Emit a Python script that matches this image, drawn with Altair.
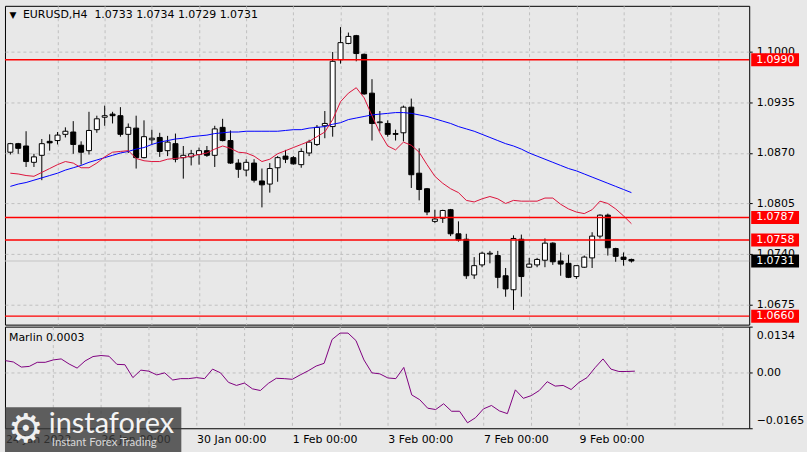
import altair as alt
import pandas as pd

# ---------------- data ----------------
bar_index = list(range(80))

opens = [1.0871, 1.0882, 1.0879, 1.0858, 1.0867, 1.0885, 1.0886, 1.0894, 1.0897, 1.0880,
         1.0873, 1.0900, 1.0916, 1.0920, 1.0918, 1.0894, 1.0902, 1.0864, 1.0887, 1.0890,
         1.0873, 1.0882, 1.0864, 1.0865, 1.0868, 1.0873, 1.0867, 1.0903, 1.0886, 1.0857,
         1.0848, 1.0857, 1.0834, 1.0830, 1.0851, 1.0866, 1.0864, 1.0855, 1.0870, 1.0881,
         1.0905, 1.0904, 1.0990, 1.1011, 1.1021, 1.0997, 1.0947, 1.0909, 1.0908, 1.0895,
         1.0896, 1.0929, 1.0844, 1.0824, 1.0782, 1.0786, 1.0797, 1.0766, 1.0759, 1.0713,
         1.0726, 1.0740, 1.0738, 1.0712, 1.0694, 1.0759, 1.0723, 1.0726, 1.0732, 1.0754,
         1.0731, 1.0728, 1.0711, 1.0723, 1.0735, 1.0763, 1.0790, 1.0747, 1.0736, 1.0733]
highs = [1.0883, 1.0883, 1.0898, 1.0869, 1.0888, 1.0894, 1.0897, 1.0903, 1.0911, 1.0885,
         1.0923, 1.0918, 1.0931, 1.0923, 1.0929, 1.0908, 1.0918, 1.0912, 1.0900, 1.0896,
         1.0892, 1.0895, 1.0879, 1.0874, 1.0877, 1.0879, 1.0905, 1.0914, 1.0899, 1.0862,
         1.0862, 1.0862, 1.0850, 1.0857, 1.0866, 1.0874, 1.0866, 1.0876, 1.0887, 1.0906,
         1.0924, 1.1000, 1.1032, 1.1025, 1.1022, 1.0998, 1.0965, 1.0924, 1.0912, 1.0900,
         1.0931, 1.0940, 1.0876, 1.0825, 1.0797, 1.0797, 1.0798, 1.0782, 1.0766, 1.0736,
         1.0743, 1.0744, 1.0744, 1.0722, 1.0764, 1.0765, 1.0735, 1.0735, 1.0760, 1.0755,
         1.0742, 1.0739, 1.0725, 1.0738, 1.0768, 1.0791, 1.0792, 1.0748, 1.0742, 1.0734]
lows = [1.0868, 1.0869, 1.0852, 1.0852, 1.0835, 1.0873, 1.0881, 1.0890, 1.0869, 1.0855,
        1.0868, 1.0896, 1.0905, 1.0908, 1.0891, 1.0870, 1.0850, 1.0863, 1.0881, 1.0865,
        1.0866, 1.0858, 1.0837, 1.0854, 1.0855, 1.0865, 1.0852, 1.0885, 1.0856, 1.0838,
        1.0840, 1.0832, 1.0800, 1.0819, 1.0833, 1.0857, 1.0855, 1.0851, 1.0866, 1.0879,
        1.0889, 1.0891, 1.0985, 1.1010, 1.0988, 1.0945, 1.0886, 1.0898, 1.0891, 1.0886,
        1.0885, 1.0825, 1.0809, 1.0790, 1.0780, 1.0780, 1.0763, 1.0756, 1.0708, 1.0708,
        1.0723, 1.0728, 1.0696, 1.0685, 1.0668, 1.0685, 1.0722, 1.0723, 1.0723, 1.0726,
        1.0712, 1.0709, 1.0708, 1.0722, 1.0722, 1.0760, 1.0738, 1.0730, 1.0725, 1.0729]
closes = [1.0882, 1.0876, 1.0859, 1.0865, 1.0882, 1.0883, 1.0893, 1.0898, 1.0881, 1.0871,
          1.0899, 1.0914, 1.0918, 1.0918, 1.0894, 1.0903, 1.0864, 1.0891, 1.0889, 1.0872,
          1.0884, 1.0862, 1.0867, 1.0869, 1.0873, 1.0867, 1.0901, 1.0886, 1.0857, 1.0849,
          1.0858, 1.0835, 1.0829, 1.0850, 1.0864, 1.0862, 1.0856, 1.0872, 1.0884, 1.0903,
          1.0908, 1.0988, 1.1012, 1.1020, 1.0998, 1.0946, 1.0908, 1.0910, 1.0894, 1.0894,
          1.0929, 1.0842, 1.0823, 1.0794, 1.0785, 1.0796, 1.0766, 1.0758, 1.0712, 1.0725,
          1.0741, 1.0741, 1.0710, 1.0695, 1.0760, 1.0711, 1.0727, 1.0733, 1.0754, 1.0730,
          1.0727, 1.0710, 1.0725, 1.0736, 1.0763, 1.0790, 1.0748, 1.0737, 1.0733, 1.0731]

ma_fast = [1.0844, 1.0843, 1.0841, 1.0840, 1.0845, 1.0850, 1.0855, 1.0859, 1.0857, 1.0851,
           1.0851, 1.0857, 1.0865, 1.0871, 1.0872, 1.0873, 1.0863, 1.0860, 1.0859, 1.0859,
           1.0862, 1.0863, 1.0864, 1.0866, 1.0868, 1.0870, 1.0875, 1.0879, 1.0876, 1.0871,
           1.0870, 1.0866, 1.0859, 1.0862, 1.0869, 1.0873, 1.0877, 1.0881, 1.0885, 1.0891,
           1.0897, 1.0913, 1.0936, 1.0947, 1.0954, 1.0941, 1.0918, 1.0896, 1.0879, 1.0874,
           1.0884, 1.0880, 1.0871, 1.0855, 1.0840, 1.0831, 1.0824, 1.0819, 1.0809, 1.0807,
           1.0811, 1.0814, 1.0811, 1.0805, 1.0809, 1.0808, 1.0808, 1.0808, 1.0812, 1.0812,
           1.0804, 1.0798, 1.0794, 1.0792, 1.0797, 1.0808, 1.0805, 1.0798, 1.0789, 1.0779]
ma_slow = [1.0827, 1.0830, 1.0832, 1.0835, 1.0838, 1.0841, 1.0844, 1.0848, 1.0851, 1.0854,
           1.0858, 1.0861, 1.0864, 1.0867, 1.0870, 1.0872, 1.0875, 1.0877, 1.0881, 1.0884,
           1.0886, 1.0888, 1.0889, 1.0891, 1.0892, 1.0893, 1.0895, 1.0896, 1.0897, 1.0897,
           1.0898, 1.0898, 1.0898, 1.0898, 1.0898, 1.0899, 1.0900, 1.0900, 1.0902, 1.0903,
           1.0904, 1.0907, 1.0909, 1.0913, 1.0915, 1.0917, 1.0919, 1.0920, 1.0921, 1.0922,
           1.0922, 1.0921, 1.0919, 1.0917, 1.0914, 1.0911, 1.0908, 1.0904, 1.0901, 1.0898,
           1.0894, 1.0890, 1.0886, 1.0882, 1.0879, 1.0875, 1.0870, 1.0866, 1.0862, 1.0858,
           1.0854, 1.0850, 1.0847, 1.0843, 1.0839, 1.0835, 1.0831, 1.0827, 1.0823, 1.0819]
marlin = [0.0034, 0.0030, 0.0015, 0.0017, 0.0029, 0.0029, 0.0036, 0.0039, 0.0024, 0.0012,
          0.0033, 0.0046, 0.0049, 0.0047, 0.0023, 0.0022, -0.0016, 0.0006, 0.0003, -0.0008,
          -0.0002, -0.0023, -0.0019, -0.0019, -0.0016, -0.0019, 0.0009, -0.0002, -0.0030, -0.0039,
          -0.0032, -0.0049, -0.0054, -0.0033, -0.0018, -0.0019, -0.0021, -0.0008, 0.0004, 0.0018,
          0.0026, 0.0096, 0.0115, 0.0115, 0.0093, 0.0036, -0.0002, -0.0005, -0.0017, -0.0019,
          0.0014, -0.0067, -0.0081, -0.0106, -0.0110, -0.0093, -0.0115, -0.0115, -0.0149, -0.0134,
          -0.0108, -0.0098, -0.0114, -0.0122, -0.0052, -0.0077, -0.0069, -0.0054, -0.0028, -0.0041,
          -0.0039, -0.0051, -0.0030, -0.0016, 0.0013, 0.0039, 0.0009, 0.0002, 0.0002, 0.0003]

level_prices = [1.0990, 1.0787, 1.0758, 1.0660]
last_price = 1.0731
price_ticks = [1.1000, 1.0935, 1.0870, 1.0805, 1.0740, 1.0675]
marlin_ticks = [0.0134, 0.0, -0.0165]
date_tick_index = [0, 12, 24, 36, 48, 60, 72]
date_tick_labels = ["24 Jan 2022", "26 Jan 00:00", "30 Jan 00:00", "1 Feb 00:00",
                    "3 Feb 00:00", "7 Feb 00:00", "9 Feb 00:00"]
grid_index = list(range(0, 94, 6))
symbol = "EURUSD,H4"

# ---------------- styling ----------------
BG = "#e8e8e8"
GRID = "#c0c0c0"
FONT = "DejaVu Sans"
W = 747
H_TOP = 320
H_BOT = 102
X_DOMAIN = [-0.05, 93.35]
PRICE_DOMAIN = [1.06491, 1.10594]
MARLIN_DOMAIN = [-0.0165, 0.0134]

bars = pd.DataFrame({"bar": bar_index, "open": opens, "high": highs, "low": lows,
                     "close": closes, "ma_fast": ma_fast, "ma_slow": ma_slow,
                     "marlin": marlin})
tags = pd.DataFrame({"price": level_prices + [last_price],
                     "kind": ["level"] * len(level_prices) + ["last"]})
levels = pd.DataFrame({"price": level_prices})
last_df = pd.DataFrame({"price": [last_price]})
one = pd.DataFrame({"k": [0]})

xscale = alt.Scale(domain=X_DOMAIN, nice=False, zero=False)
pscale = alt.Scale(domain=PRICE_DOMAIN, nice=False, zero=False)
mscale = alt.Scale(domain=MARLIN_DOMAIN, nice=False, zero=False)

grid_op = {"condition": {"test": "datum.value > 0", "value": 1}, "value": 0}

x_top_axis = alt.Axis(values=grid_index, grid=True, gridDash=[3, 3], gridColor=GRID,
                      gridOpacity=grid_op, labels=False, ticks=False, domain=False, title=None)
label_expr = " : ".join(f"datum.value == {i} ? '{s}'"
                        for i, s in zip(date_tick_index, date_tick_labels)) + " : ''"
x_bot_axis = alt.Axis(values=grid_index, grid=True, gridDash=[3, 3], gridColor=GRID,
                      gridOpacity=grid_op, labelExpr=label_expr, labelAlign="left",
                      labelBaseline="top", labelPadding=5, ticks=False, domain=False,
                      title=None, labelOverlap=False, labelFlush=False, labelBound=False)
y_price_axis = alt.Axis(values=price_ticks, orient="right", grid=True, gridDash=[3, 3],
                        gridColor=GRID, format=".4f", tickSize=3, tickColor="black",
                        labelPadding=4, domain=False, title=None, labelOverlap=False,
                        labelFlush=False)
m_grid_op = {"condition": {"test": "datum.value == 0", "value": 1}, "value": 0}
y_marlin_axis = alt.Axis(values=marlin_ticks, orient="right", grid=True, gridDash=[3, 3],
                         gridColor=GRID, gridOpacity=m_grid_op,
                         labelExpr="datum.value == 0 ? '0.00' : format(datum.value, '.4f')",
                         tickSize=3, tickColor="black", labelPadding=4, domain=False,
                         title=None, labelOverlap=False, labelFlush=True,
                         labelFlushOffset=-3)

X_T = alt.X("bar:Q", scale=xscale, axis=x_top_axis)
X_B = alt.X("bar:Q", scale=xscale, axis=x_bot_axis)


def PY(field):
    return alt.Y(f"{field}:Q", scale=pscale, axis=y_price_axis)


base = alt.Chart(bars)

wicks = base.mark_rule(color="black", strokeWidth=1, clip=True).encode(
    x=X_T, y=PY("low"), y2="high:Q")
bodies = base.mark_bar(size=5, stroke="black", strokeWidth=1, clip=True).encode(
    x=X_T, y=PY("open"), y2="close:Q",
    fill=alt.condition("datum.close >= datum.open", alt.value("white"), alt.value("black")))
fast = base.mark_line(color="#dc143c", strokeWidth=1, clip=True).encode(x=X_T, y=PY("ma_fast"))
slow = base.mark_line(color="#0000ff", strokeWidth=1, clip=True).encode(x=X_T, y=PY("ma_slow"))
level_lines = alt.Chart(levels).mark_rule(strokeWidth=1.4).encode(
    y=PY("price"), x=alt.value(0), x2=alt.value(W), stroke=alt.value("#ff0000"),
    strokeOpacity=alt.value(1))
last_line = alt.Chart(last_df).mark_rule(strokeWidth=1).encode(
    y=PY("price"), x=alt.value(0), x2=alt.value(W), stroke=alt.value("#c4c4c4"))
tag_boxes = alt.Chart(tags).mark_rule(strokeWidth=13, strokeCap="butt").encode(
    y=PY("price"), x=alt.value(W + 2), x2=alt.value(W + 50),
    stroke=alt.condition("datum.kind == 'last'", alt.value("#000000"), alt.value("#ff0000")))
tag_text = alt.Chart(tags).mark_text(align="left", baseline="middle", font=FONT, fontSize=11,
                                     color="white").encode(
    y=PY("price"), x=alt.value(W + 7), text=alt.Text("price:Q", format=".4f"))
title_str = f"{symbol}\u00a0\u00a0{opens[-1]:.4f} {highs[-1]:.4f} {lows[-1]:.4f} {closes[-1]:.4f}"
title_text = alt.Chart(one).mark_text(align="left", baseline="middle", font=FONT, fontSize=11,
                                      color="black").encode(
    x=alt.value(18), y=alt.value(9), text=alt.value(title_str))
tri = alt.Chart(one).mark_text(align="center", baseline="middle", font=FONT, fontSize=9,
                               color="black").encode(
    x=alt.value(8), y=alt.value(9), text=alt.value("\u25bc"))
filler = alt.Chart(one).mark_rect(fill=BG).encode(
    x=alt.value(W + 50), x2=alt.value(W + 57), y=alt.value(0), y2=alt.value(1))

top = alt.layer(last_line, wicks, bodies, slow, fast, level_lines, tag_boxes, tag_text,
                title_text, tri, filler).properties(width=W, height=H_TOP)

marlin_line = base.mark_line(color="#800080", strokeWidth=1, clip=True).encode(
    x=X_B, y=alt.Y("marlin:Q", scale=mscale, axis=y_marlin_axis))
marlin_label = alt.Chart(one).mark_text(align="left", baseline="middle", font=FONT, fontSize=11,
                                        color="black").encode(
    x=alt.value(4), y=alt.value(11), text=alt.value(f"Marlin {marlin[-1]:.4f}"))
wm_box = alt.Chart(one).mark_rect(fill="#3a3a3a", opacity=0.8).encode(
    x=alt.value(0), x2=alt.value(177), y=alt.value(81), y2=alt.value(126))
wm_gear = alt.Chart(one).mark_text(align="center", baseline="middle", font=FONT, fontSize=40,
                                   color="#f0f0f0").encode(
    x=alt.value(21), y=alt.value(104), text=alt.value("\u2699"))
wm_name = alt.Chart(one).mark_text(align="left", baseline="alphabetic", font="Lato", fontSize=29,
                                   color="#f4f4f4").encode(
    x=alt.value(44), y=alt.value(107), text=alt.value("instaforex"))
wm_sub = alt.Chart(one).mark_text(align="left", baseline="alphabetic", font="Lato", fontSize=11.5,
                                  color="#d8d8d8").encode(
    x=alt.value(47), y=alt.value(120), text=alt.value("Instant Forex Trading"))

bottom = alt.layer(marlin_line, marlin_label, wm_box, wm_gear, wm_name, wm_sub).properties(
    width=W, height=H_BOT)

chart = alt.vconcat(top, bottom, spacing=2, bounds="flush").properties(
    padding={"left": 3, "top": 4, "right": 0, "bottom": 0}
).configure(background=BG).configure_view(
    stroke="black", strokeWidth=1
).configure_axis(
    labelFont=FONT, labelFontSize=11, labelColor="black"
)

chart.save("out.html", embed_options={"renderer": "svg", "actions": False})
